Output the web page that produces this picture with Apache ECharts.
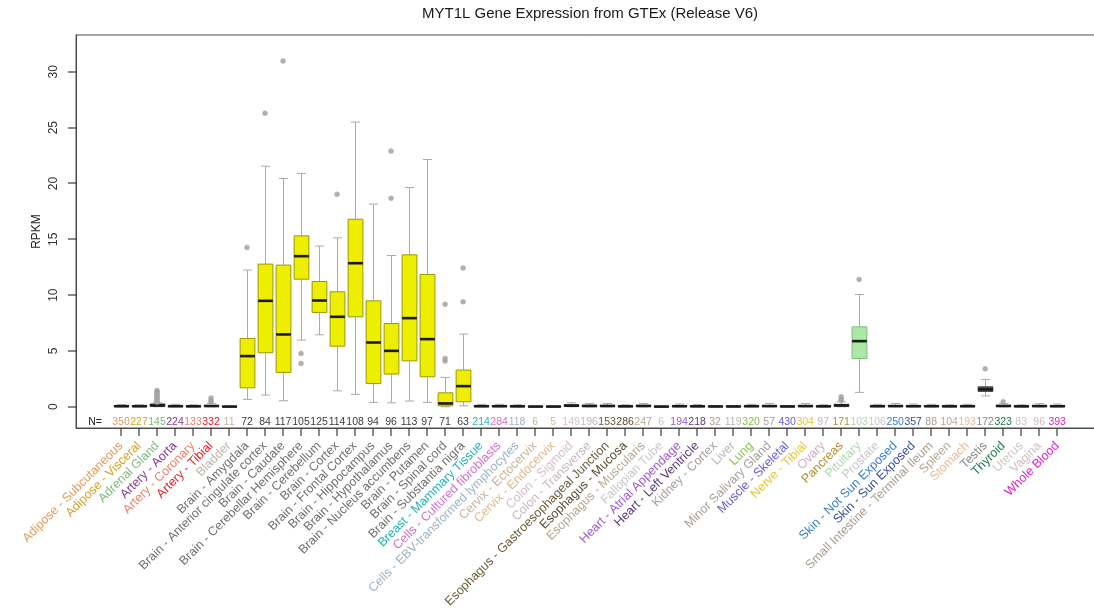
<!DOCTYPE html>
<html>
<head>
<meta charset="utf-8">
<title>MYT1L Gene Expression from GTEx (Release V6)</title>
<script src="https://cdn.jsdelivr.net/npm/echarts@6/dist/echarts.min.js"></script>
<style>
  html, body { margin: 0; padding: 0; background: #ffffff; }
  #chart { width: 1094px; height: 609px; }
</style>
</head>
<body>
<div id="chart"></div>
<script>
// Tissue categories, in plotting order
const tissues = [
  'Adipose - Subcutaneous', 'Adipose - Visceral', 'Adrenal Gland', 'Artery - Aorta',
  'Artery - Coronary', 'Artery - Tibial', 'Bladder', 'Brain - Amygdala',
  'Brain - Anterior cingulate cortex', 'Brain - Caudate', 'Brain - Cerebellar Hemisphere',
  'Brain - Cerebellum', 'Brain - Cortex', 'Brain - Frontal Cortex', 'Brain - Hippocampus',
  'Brain - Hypothalamus', 'Brain - Nucleus accumbens', 'Brain - Putamen', 'Brain - Spinal cord',
  'Brain - Substantia nigra', 'Breast - Mammary Tissue', 'Cells - Cultured fibroblasts',
  'Cells - EBV-transformed lymphocytes', 'Cervix - Ectocervix', 'Cervix - Endocervix',
  'Colon - Sigmoid', 'Colon - Transverse', 'Esophagus - Gastroesophageal Junction',
  'Esophagus - Mucosa', 'Esophagus - Muscularis', 'Fallopian Tube', 'Heart - Atrial Appendage',
  'Heart - Left Ventricle', 'Kidney - Cortex', 'Liver', 'Lung', 'Minor Salivary Gland',
  'Muscle - Skeletal', 'Nerve - Tibial', 'Ovary', 'Pancreas', 'Pituitary', 'Prostate',
  'Skin - Not Sun Exposed', 'Skin - Sun Exposed', 'Small Intestine - Terminal Ileum',
  'Spleen', 'Stomach', 'Testis', 'Thyroid', 'Uterus', 'Vagina', 'Whole Blood'
];

// Number of samples per tissue
const sampleCounts = [
  350, 227, 145, 224, 133, 332, 11, 72, 84, 117, 105, 125, 114, 108, 94, 96, 113, 97, 71, 63,
  214, 284, 118, 6, 5, 149, 196, 153, 286, 247, 6, 194, 218, 32, 119, 320, 57, 430, 304, 97,
  171, 103, 106, 250, 357, 88, 104, 193, 172, 323, 83, 96, 393
];

// Box statistics (RPKM): lower whisker, Q1, median, Q3, upper whisker
const whiskerLow = [
  0, 0, 0, 0, 0, 0, 0, 0.66, 1.05, 0.54, 5.97, 6.45, 1.43, 1.11, 0.39, 0.36, 0.51, 0.39, 0, 0.09,
  0, 0, 0, 0, 0, 0, 0, 0, 0, 0, 0, 0, 0, 0, 0, 0, 0, 0, 0, 0,
  0, 1.29, 0, 0, 0, 0, 0, 0, 0.98, 0, 0, 0, 0
];
const quartile1 = [
  0.02, 0.02, 0.05, 0.02, 0.02, 0.03, 0.01, 1.70, 4.84, 3.08, 11.43, 8.45, 5.43, 8.06, 2.09, 2.93, 4.12, 2.69, 0.09, 0.45,
  0.02, 0.02, 0.02, 0.01, 0.01, 0.05, 0.03, 0.03, 0.02, 0.03, 0.01, 0.02, 0.02, 0.01, 0.01, 0.02, 0.03, 0.01, 0.03, 0.02,
  0.05, 4.33, 0.02, 0.03, 0.02, 0.02, 0.02, 0.02, 1.38, 0.03, 0.02, 0.03, 0.02
];
const medians = [
  0.05, 0.05, 0.12, 0.05, 0.04, 0.07, 0.02, 4.54, 9.49, 6.48, 13.49, 9.52, 8.06, 12.86, 5.76, 5.01, 7.94, 6.06, 0.30, 1.85,
  0.05, 0.05, 0.04, 0.02, 0.02, 0.10, 0.07, 0.07, 0.04, 0.07, 0.02, 0.05, 0.04, 0.03, 0.03, 0.05, 0.06, 0.03, 0.06, 0.04,
  0.12, 5.88, 0.05, 0.06, 0.05, 0.05, 0.04, 0.05, 1.56, 0.07, 0.04, 0.06, 0.05
];
const quartile3 = [
  0.09, 0.08, 0.25, 0.10, 0.08, 0.12, 0.03, 6.12, 12.78, 12.69, 15.31, 11.22, 10.30, 16.80, 9.49, 7.46, 13.61, 11.85, 1.25, 3.29,
  0.09, 0.10, 0.08, 0.04, 0.04, 0.18, 0.14, 0.13, 0.08, 0.13, 0.03, 0.10, 0.08, 0.05, 0.05, 0.10, 0.12, 0.05, 0.12, 0.08,
  0.22, 7.16, 0.10, 0.12, 0.10, 0.10, 0.08, 0.10, 1.79, 0.13, 0.08, 0.12, 0.10
];
const whiskerHigh = [
  0.20, 0.18, 0.35, 0.22, 0.18, 0.30, 0.05, 12.24, 21.55, 20.45, 20.90, 14.39, 15.13, 25.50, 18.15, 13.55, 19.64, 22.15, 2.63, 6.51,
  0.22, 0.22, 0.18, 0.06, 0.06, 0.36, 0.30, 0.30, 0.18, 0.30, 0.05, 0.25, 0.20, 0.10, 0.10, 0.22, 0.30, 0.12, 0.30, 0.18,
  0.45, 10.06, 0.22, 0.30, 0.25, 0.22, 0.18, 0.22, 2.45, 0.30, 0.18, 0.28, 0.25
];

// Points beyond the whiskers, keyed by tissue index
const outliers = {
  2: [0.42, 0.51, 0.60, 0.71, 0.80, 0.92, 1.01, 1.12, 1.23, 1.34, 1.45],
  5: [0.42, 0.56, 0.78],
  7: [14.27],
  8: [26.3],
  9: [30.98],
  10: [4.78, 3.88],
  12: [19.04],
  15: [22.9, 18.68],
  18: [9.19, 4.33, 4.09],
  19: [12.44, 9.4],
  40: [0.58, 0.70, 0.90],
  41: [11.4],
  48: [3.4],
  49: [0.45]
};

// RPKM tick marks
const yTicks = [0, 5, 10, 15, 20, 25, 30];

// Label / count colours per tissue
const tissueColors = [
  '#E39A5C', '#D6A02C', '#7DBB7D', '#8A3A8C', '#E8826C', '#E2222C', '#C2B4A6',
  '#707070', '#707070', '#707070', '#707070', '#707070', '#707070', '#707070',
  '#707070', '#707070', '#707070', '#707070', '#707070', '#707070',
  '#26B3B3', '#D270D0', '#9EB2C8', '#C8B498', '#DDB98A', '#D8BECA', '#C9B6BE',
  '#6B5B3B', '#5A4A30', '#B8A890', '#C8C8C8', '#9A5AD8', '#5A3A7A', '#A8A098',
  '#B8B8B0', '#8CC050', '#A8A098', '#6A60D0', '#E6C62E', '#D2AACA', '#B09030',
  '#B0D8A8', '#C8C8C8', '#3A80D0', '#3A50A0', '#A8A090', '#B8A890', '#E2BE9A',
  '#8A8A8A', '#1A7A4A', '#D0C4C4', '#D4BCC4', '#E020D0'
];

const FONT = '"Liberation Sans", Arial, Helvetica, sans-serif';
const TICK_LEN = 8;

function isBrain(i) { return tissues[i].indexOf('Brain') === 0; }
function boxFill(i) {
  if (isBrain(i)) return '#EEEE00';
  if (tissues[i] === 'Pituitary') return '#AAE8A4';
  if (tissues[i] === 'Testis') return '#555555';
  return '#777777';
}
function boxStroke(i) {
  if (isBrain(i)) return '#9E9800';
  if (tissues[i] === 'Pituitary') return '#82B882';
  return '#444444';
}

const boxData = tissues.map((t, i) => [i, whiskerLow[i], quartile1[i], medians[i], quartile3[i], whiskerHigh[i]]);
const countData = tissues.map((t, i) => [i, 0, sampleCounts[i]]);
const yTickData = yTicks.map(v => [0, v]);
const outlierData = [];
Object.keys(outliers).forEach(k => {
  outliers[k].forEach(v => outlierData.push([Number(k), v]));
});

function renderBox(params, api) {
  const i = api.value(0);
  const x = Math.round(api.coord([i, 0])[0]) + 0.5;
  const w = api.size([1, 0])[0] * 0.82;
  const cap = w * 0.62;
  const y = idx => api.coord([i, api.value(idx)])[1];
  const yLo = y(1), yQ1 = y(2), yMed = y(3), yQ3 = y(4), yHi = y(5);
  const whisk = { stroke: '#ABABAB', lineWidth: 1 };
  return {
    type: 'group',
    children: [
      { type: 'line', shape: { x1: x, y1: yLo, x2: x, y2: yQ1 }, style: whisk },
      { type: 'line', shape: { x1: x, y1: yQ3, x2: x, y2: yHi }, style: whisk },
      { type: 'line', shape: { x1: x - cap / 2, y1: yLo, x2: x + cap / 2, y2: yLo }, style: whisk },
      { type: 'line', shape: { x1: x - cap / 2, y1: yHi, x2: x + cap / 2, y2: yHi }, style: whisk },
      { type: 'rect', shape: { x: x - w / 2, y: yQ3, width: w, height: Math.max(yQ1 - yQ3, 0.5) },
        style: { fill: boxFill(i), stroke: boxStroke(i), lineWidth: 1 } },
      { type: 'line', shape: { x1: x - w / 2, y1: yMed, x2: x + w / 2, y2: yMed },
        style: { stroke: '#1a1a1a', lineWidth: 2.6 } }
    ]
  };
}

// Sample counts inside the frame, tick marks and slanted tissue names under it
function renderCount(params, api) {
  const i = api.value(0);
  const x = api.coord([i, 0])[0];
  const cs = params.coordSys;
  const bottom = cs.y + cs.height;
  const y = bottom - 6;
  const children = [{
    type: 'rect', shape: { x: Math.round(x) - 0.6, y: bottom, width: 1.2, height: TICK_LEN },
    style: { fill: '#3a3a3a' }
  }, {
    type: 'text', x: x, y: y,
    style: { text: String(api.value(2)), fill: isBrain(i) ? '#3c3c3c' : tissueColors[i],
      font: '10.5px ' + FONT, align: 'center', verticalAlign: 'middle' }
  }, {
    type: 'text', x: x, y: bottom + 16, rotation: Math.PI / 4,
    style: { text: tissues[i], fill: tissueColors[i],
      font: '12.5px ' + FONT, align: 'right', verticalAlign: 'middle' }
  }];
  if (params.dataIndex === 0) {
    children.push({
      type: 'text', x: x - 26, y: y,
      style: { text: 'N=', fill: '#222', font: '10.5px ' + FONT, align: 'center', verticalAlign: 'middle' }
    });
  }
  return { type: 'group', children: children };
}

// Tick marks on the RPKM axis
function renderYTick(params, api) {
  const yv = api.coord([0, api.value(1)])[1];
  const left = params.coordSys.x;
  return {
    type: 'rect', shape: { x: left - TICK_LEN, y: Math.round(yv) - 0.6, width: TICK_LEN, height: 1.2 },
    style: { fill: '#3a3a3a' }
  };
}

const chart = echarts.init(document.getElementById('chart'), null, { renderer: 'canvas' });
chart.setOption({
  animation: false,
  backgroundColor: '#ffffff',
  textStyle: { fontFamily: FONT },
  graphic: [{
    type: 'text', x: 590, y: 14,
    style: { text: 'MYT1L Gene Expression from GTEx (Release V6)', fill: '#1a1a1a',
      font: '15px ' + FONT, align: 'center', verticalAlign: 'middle' }
  }],
  grid: {
    left: 76, right: -10, top: 35, bottom: 609 - 428,
    show: true, borderColor: '#4a4a4a', borderWidth: 1, backgroundColor: 'transparent',
    containLabel: false, outerBoundsMode: 'none'
  },
  xAxis: {
    type: 'value', min: -2.5, max: 54.6,
    splitLine: { show: false },
    axisLine: { show: true, onZero: false, lineStyle: { color: '#4a4a4a', width: 1 } },
    axisTick: { show: false },
    axisLabel: { show: false }
  },
  yAxis: {
    type: 'value', min: -1.9, max: 33.3,
    name: 'RPKM', nameLocation: 'middle', nameGap: 33, nameMoveOverlap: false,
    nameTextStyle: { color: '#222', fontSize: 12, fontFamily: FONT },
    splitLine: { show: false },
    axisLine: { show: true, onZero: false, lineStyle: { color: '#4a4a4a', width: 1 } },
    axisTick: { show: false },
    axisLabel: { show: true, rotate: 90, margin: 16, color: '#333', fontSize: 12,
      fontFamily: FONT, customValues: yTicks, hideOverlap: false }
  },
  series: [
    {
      type: 'custom', name: 'boxes', data: boxData,
      encode: { x: 0, y: [1, 2, 3, 4, 5] },
      renderItem: renderBox, silent: true, z: 3
    },
    {
      type: 'scatter', name: 'outliers', data: outlierData,
      symbol: 'circle', symbolSize: 5,
      itemStyle: { color: '#9C9C9C', borderColor: '#B4B4B4', borderWidth: 0.6 },
      silent: true, z: 4
    },
    {
      type: 'custom', name: 'counts', data: countData,
      encode: { x: 0, y: 1 }, clip: false,
      renderItem: renderCount, silent: true, z: 5
    },
    {
      type: 'custom', name: 'yTicks', data: yTickData,
      encode: { x: 0, y: 1 }, clip: false,
      renderItem: renderYTick, silent: true, z: 5
    }
  ]
});
</script>
</body>
</html>
